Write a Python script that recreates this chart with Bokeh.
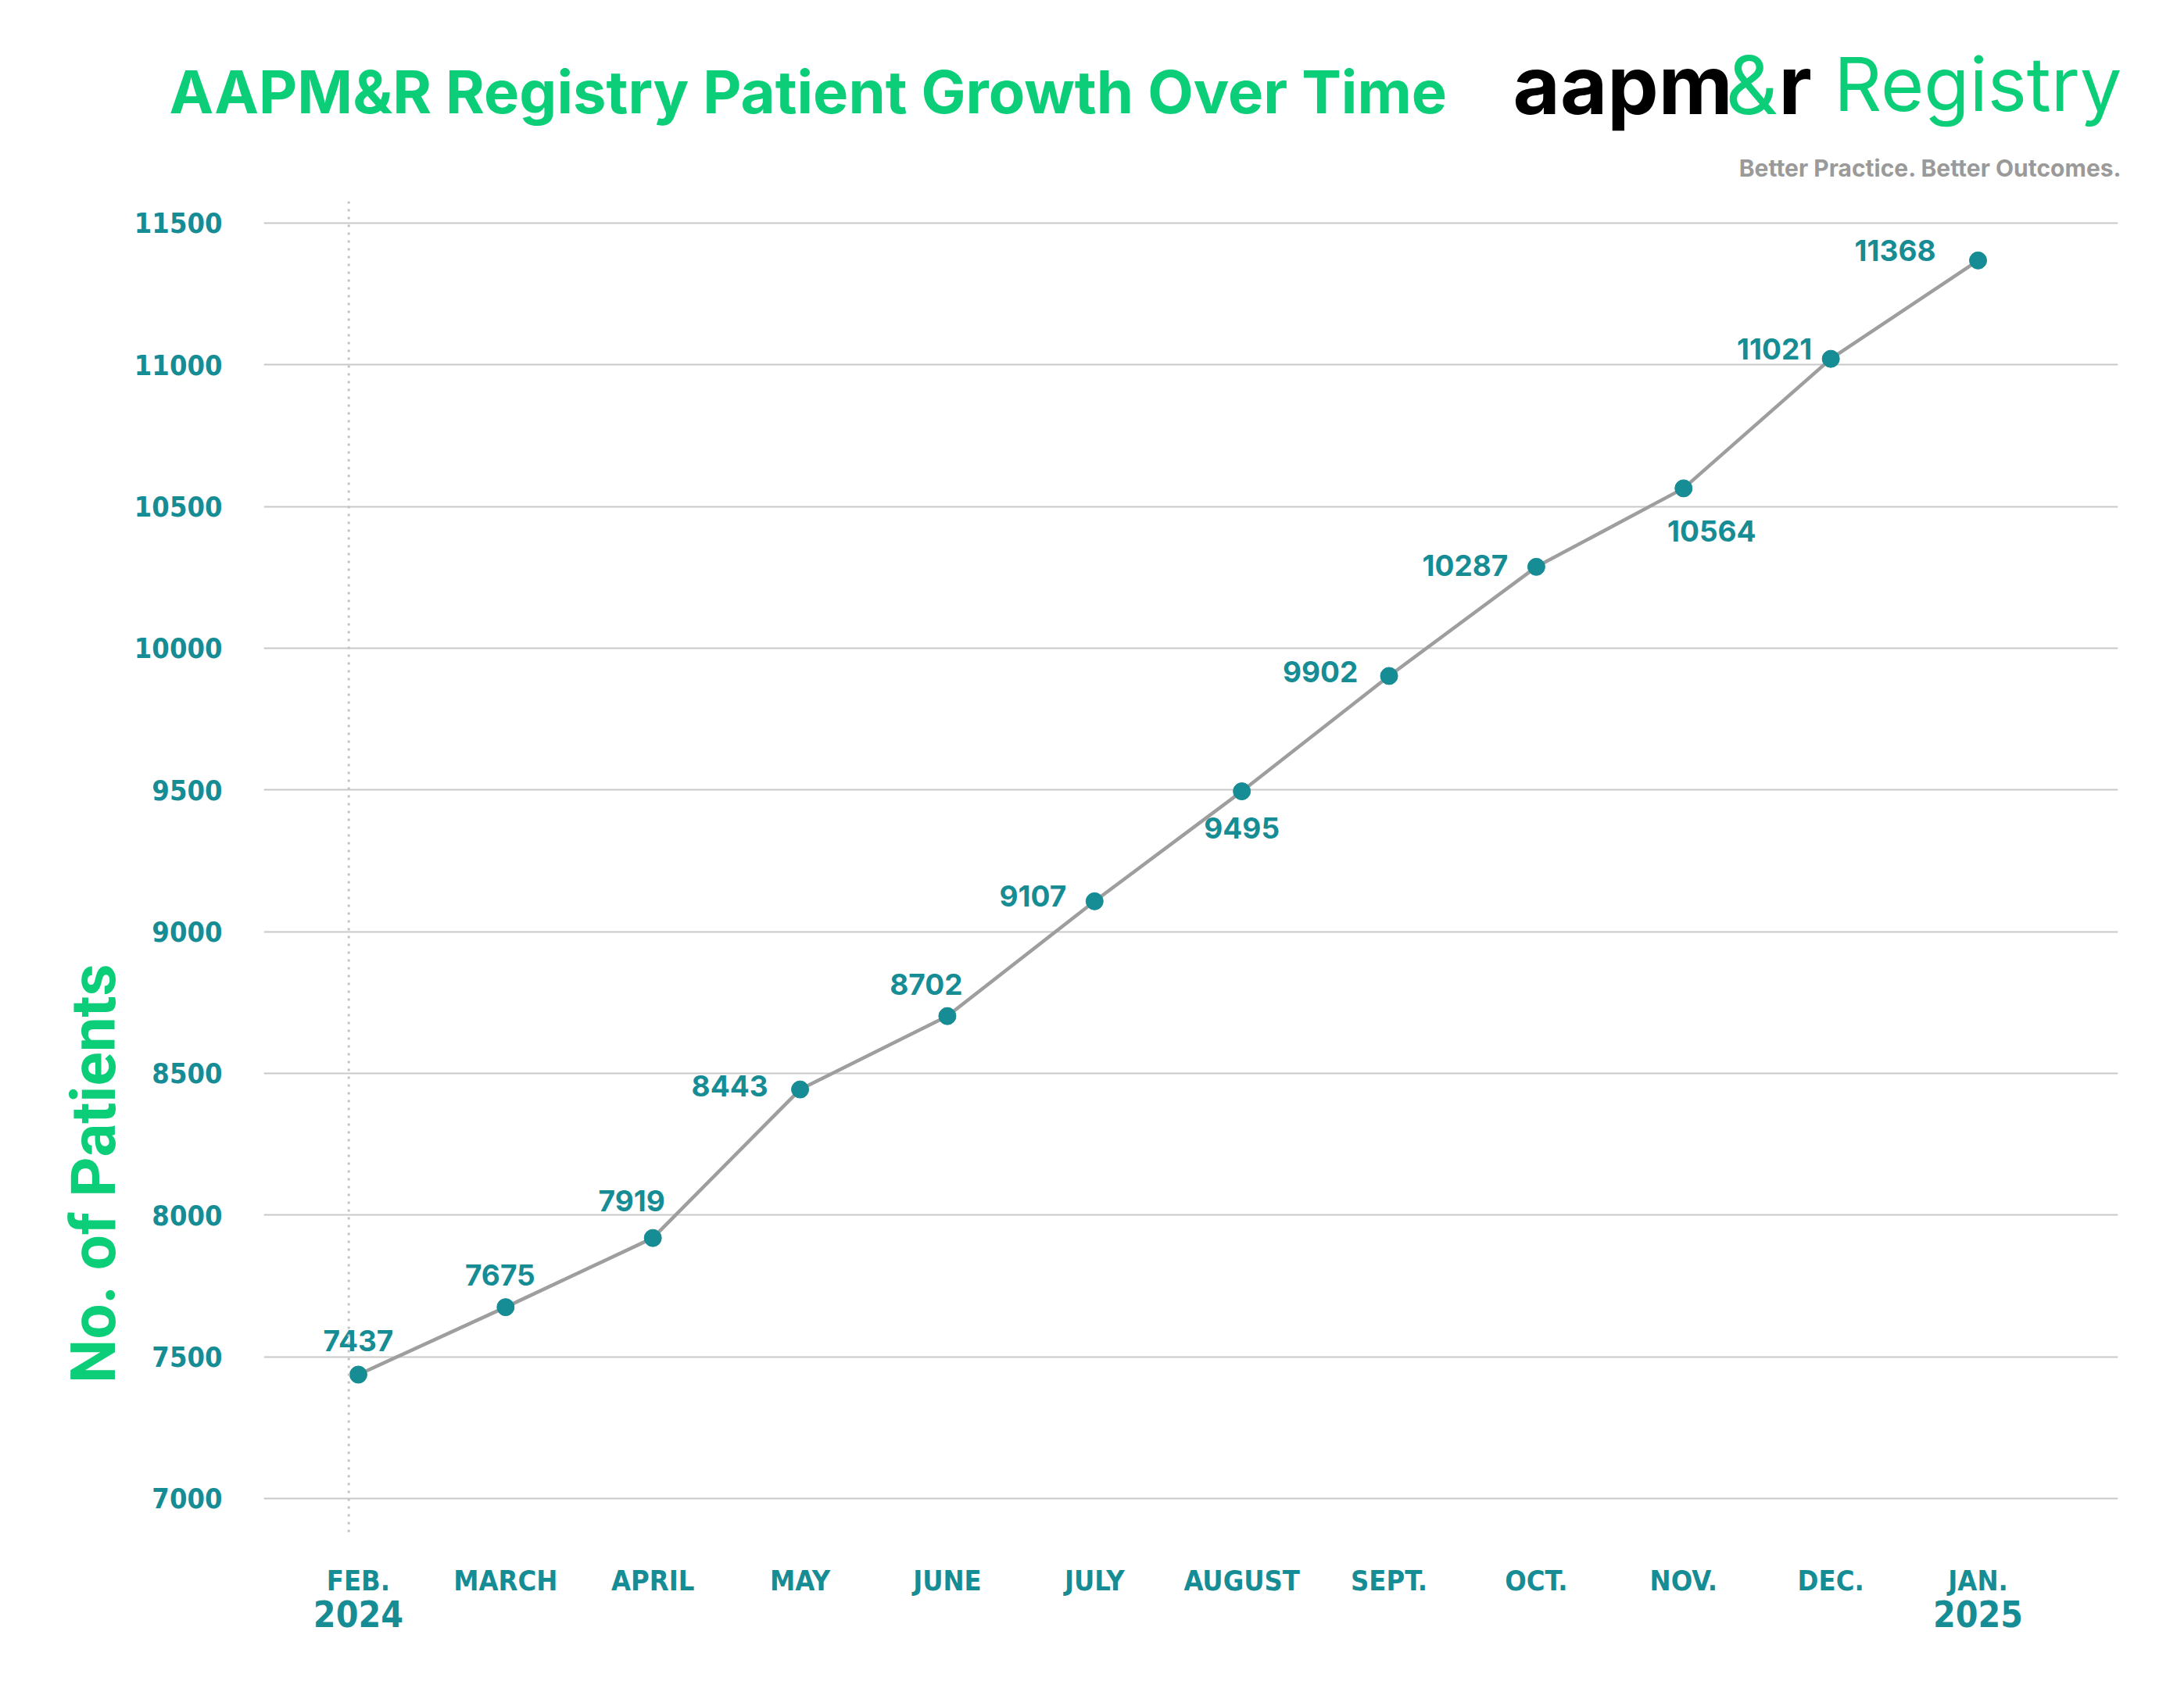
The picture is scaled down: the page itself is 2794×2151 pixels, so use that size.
from bokeh.plotting import figure
from bokeh.models import Range1d, FixedTicker, LinearAxis, ColumnDataSource, Span
from bokeh.layouts import column, row
from bokeh.embed import file_html
from bokeh.resources import INLINE
from bokeh.core.properties import value

# ---- data ----
months = ["FEB.", "MARCH", "APRIL", "MAY", "JUNE", "JULY", "AUGUST", "SEPT.", "OCT.", "NOV.", "DEC.", "JAN."]
year_labels = {0: "2024", 11: "2025"}
patients = [7437, 7675, 7919, 8443, 8702, 9107, 9495, 9902, 10287, 10564, 11021, 11368]
y_ticks = [7000, 7500, 8000, 8500, 9000, 9500, 10000, 10500, 11000, 11500]
title_text = "AAPM&R Registry Patient Growth Over Time"
tagline = "Better Practice. Better Outcomes."
y_title = "No. of Patients"

# label placement (pixels, relative to point)
label_dx = [0, -7, -27, -90, -27, -79, 0, -88, -91, 36, -72, -106]
label_dy = [-43, -41, -48, -5, -41, -7, 47, -5, -2, 55, -13, -13]

TEAL = "#168C94"
GREEN = "#0CCE79"
GRID = "#c9c9c9"
LINE = "#9e9e9e"
COND = "DejaVu Sans Condensed"

W, H = 2778, 2130
HEAD_H = 235
SIDE_W = 165
MAIN_H = H - HEAD_H
MAIN_W = W - SIDE_W


def blank(width, height, xr, yr):
    f = figure(width=width, height=height, output_backend="svg", toolbar_location=None,
               x_range=xr, y_range=yr, x_axis_type=None, y_axis_type=None,
               min_border=0)
    f.outline_line_color = None
    f.xgrid.visible = False
    f.ygrid.visible = False
    return f


# ---- header ----
head = blank(W, HEAD_H, Range1d(0, W), Range1d(HEAD_H, 0))
head.text(x=[216], y=[116], text=[title_text], text_font=value("Inter"), text_font_style="bold",
          text_font_size="76px", text_color=GREEN, text_baseline="middle", text_align="left")
head.text(x=[1935], y=[107], text=["aapm"], text_font=value("Inter"), text_font_style="bold",
          text_font_size="104px", text_color="#000000", text_baseline="alphabetic")
head.text(x=[2207], y=[107], text=["&"], text_font=value("Inter"), text_font_style="normal",
          text_font_size="104px", text_color=GREEN, text_baseline="alphabetic")
head.text(x=[2275], y=[107], text=["r"], text_font=value("Inter"), text_font_style="bold",
          text_font_size="104px", text_color="#000000", text_baseline="alphabetic")
head.text(x=[2714], y=[107], text=["Registry"], text_font=value("Inter"), text_font_style="normal",
          text_font_size="95px", text_color=GREEN, text_baseline="alphabetic", text_align="right")
head.text(x=[2714], y=[214], text=[tagline], text_font=value("Inter"), text_font_style="bold",
          text_font_size="30px", text_color="#9a9a9a", text_baseline="middle", text_align="right")

# ---- side (y title) ----
side = blank(SIDE_W, MAIN_H, Range1d(0, SIDE_W), Range1d(MAIN_H, 0))
side.text(x=[119], y=[1382], text=[y_title], text_font=value("Roboto"), text_font_style="bold",
          text_font_size="80px", text_color=GREEN, text_align="center", text_baseline="middle",
          angle=1.5707963)

# ---- main chart ----
p = figure(width=MAIN_W, height=MAIN_H, output_backend="svg", toolbar_location=None,
           x_range=Range1d(-0.642, 11.95), y_range=Range1d(6873, 11577),
           min_border_left=172, min_border_right=69, min_border_top=22, min_border_bottom=167)
p.outline_line_color = None

xa = p.xaxis[0]
xa.ticker = FixedTicker(ticks=list(range(len(months))))
xa.major_label_overrides = {i: m for i, m in enumerate(months)}
xa.axis_line_color = None
xa.major_tick_line_color = None
xa.minor_tick_line_color = None
xa.major_tick_out = 0
xa.major_label_standoff = 38
xa.major_label_text_font = COND
xa.major_label_text_font_style = "bold"
xa.major_label_text_font_size = "36px"
xa.major_label_text_color = TEAL

ya2 = LinearAxis(ticker=FixedTicker(ticks=list(year_labels.keys())),
                 major_label_overrides=year_labels)
ya2.axis_line_color = None
ya2.major_tick_line_color = None
ya2.minor_tick_line_color = None
ya2.major_tick_out = 0
ya2.major_label_standoff = 2
ya2.major_label_text_font = COND
ya2.major_label_text_font_style = "bold"
ya2.major_label_text_font_size = "46px"
ya2.major_label_text_color = TEAL
p.add_layout(ya2, "below")

yax = p.yaxis[0]
yax.ticker = FixedTicker(ticks=y_ticks)
yax.axis_line_color = None
yax.major_tick_line_color = None
yax.minor_tick_line_color = None
yax.major_tick_out = 0
yax.major_label_standoff = 53
yax.major_label_text_font = COND
yax.major_label_text_font_style = "bold"
yax.major_label_text_font_size = "36px"
yax.major_label_text_color = TEAL

p.xgrid.grid_line_color = None
p.ygrid.ticker = FixedTicker(ticks=y_ticks)
p.ygrid.grid_line_color = GRID
p.ygrid.grid_line_width = 2

p.add_layout(Span(location=-0.065, dimension="height", line_color="#c4c4c4",
                  line_width=3, line_dash="3 7"))

src = ColumnDataSource(dict(x=list(range(len(months))), y=patients,
                            txt=[str(v) for v in patients], dx=label_dx, dy=label_dy))
p.line("x", "y", source=src, line_color=LINE, line_width=4.5)
p.scatter("x", "y", source=src, size=22, fill_color=TEAL, line_color=TEAL)
p.text("x", "y", text="txt", source=src, x_offset="dx", y_offset="dy",
       text_font=value("Inter"), text_font_style="bold", text_font_size="37px",
       text_color=TEAL, text_align="center", text_baseline="middle")

layout = column(head, row(side, p))
open("out.html", "w").write(file_html(layout, INLINE))
